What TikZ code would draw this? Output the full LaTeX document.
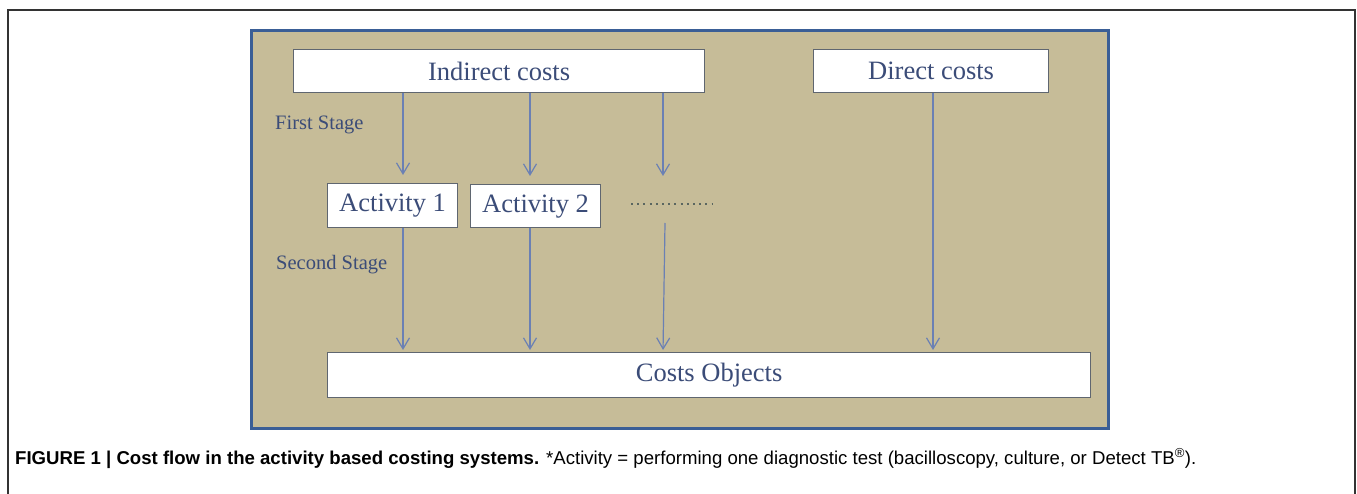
\documentclass[tikz,border=0pt]{standalone}
\usepackage{fontspec}
\setmainfont{Liberation Serif}
\newfontfamily\capfont{Liberation Sans}
\usetikzlibrary{calc,positioning,arrows.meta}
\definecolor{color_panel}{HTML}{C6BC98}
\definecolor{color_panel_border}{HTML}{3A5E96}
\definecolor{color_box_border}{HTML}{5F6670}
\definecolor{color_text}{HTML}{3B4C78}
\definecolor{color_arrow}{HTML}{6A80B4}
\definecolor{color_dots}{HTML}{5A6660}
\definecolor{color_frame}{HTML}{333333}

\tikzset{
	costbox/.style={draw=color_box_border, line width=1.2pt, fill=white, text=color_text,
		font=\fontsize{26.5}{30}\selectfont, inner sep=0pt, anchor=north west},
	flow/.style={color_arrow, line width=1.2pt, -{Straight Barb[length=11pt,width=13pt]}},
	stagelabel/.style={text=color_text, font=\fontsize{20.5}{24}\selectfont, inner sep=0pt, anchor=west},
}

\begin{document}
\begin{tikzpicture}[x=1pt,y=-1pt]
				\useasboundingbox (0, 0) rectangle (1357, 494);
				% Frame and panel
				\draw[color_frame, line width=1.2pt]
					(8, 494) -- (8, 10) -- (1355, 10) -- (1355, 494);
				\draw[color_panel_border, line width=3pt, fill=color_panel]
					(251, 31) rectangle (1108, 428);

				% Columns
				\coordinate (colA) at (403, 0);
				\coordinate (colB) at (530, 0);
				\coordinate (colC) at (663, 0);
				\coordinate (colD) at (933, 0);

				% Boxes
				\node[costbox, minimum width=411pt, minimum height=43pt] (indirect) at (293, 49) {Indirect costs};
				\node[costbox, minimum width=235pt, minimum height=43pt] (direct) at (813, 49) {Direct costs};
				\node[costbox, minimum width=130pt, minimum height=44pt] (act1) at (327, 183) {Activity 1};
				\node[costbox, minimum width=130pt, minimum height=43pt] (act2) at (470, 184) {Activity 2};
				\node[costbox, minimum width=763pt, minimum height=45pt] (objects) at (327, 352) {Costs Objects};

				% Stages
				\node[stagelabel] (first) at (275, 125) {First Stage};
				\node[stagelabel] (second) at (276, 265) {Second Stage};

				% More activities
				\coordinate (dotsL) at (631, 204);
				\coordinate (dotsR) at (713, 204);
				\coordinate (moreIn) at (663, 176);
				\coordinate (moreOut) at (665, 223);
				\draw[color_dots, line width=2pt, dash pattern=on 2pt off 4.2pt]
					(dotsL) -- (dotsR);

				% First stage
				\draw[flow, shorten >=8pt] (indirect.south -| colA) -- (act1.north -| colA);
				\draw[flow, shorten >=8pt] (indirect.south -| colB) -- (act2.north -| colB);
				\draw[flow] (indirect.south -| colC) -- (moreIn);

				% Second stage
				\draw[flow, shorten >=2pt] (act1.south -| colA) -- (objects.north -| colA);
				\draw[flow, shorten >=2pt] (act2.south -| colB) -- (objects.north -| colB);
				\draw[flow, shorten >=2pt] (moreOut) -- (objects.north -| colC);
				\draw[flow, shorten >=2pt] (direct.south -| colD) -- (objects.north -| colD);

				% Caption
				\node[anchor=base west, inner sep=0pt, font=\capfont\fontsize{18.6}{22}\selectfont] (caption) at (15, 464)
					{\textbf{FIGURE 1 | Cost flow in the activity based costing systems.} *Activity = performing one diagnostic test (bacilloscopy, culture, or Detect TB\textsuperscript{\textregistered}).};
			\end{tikzpicture}
\end{document}
